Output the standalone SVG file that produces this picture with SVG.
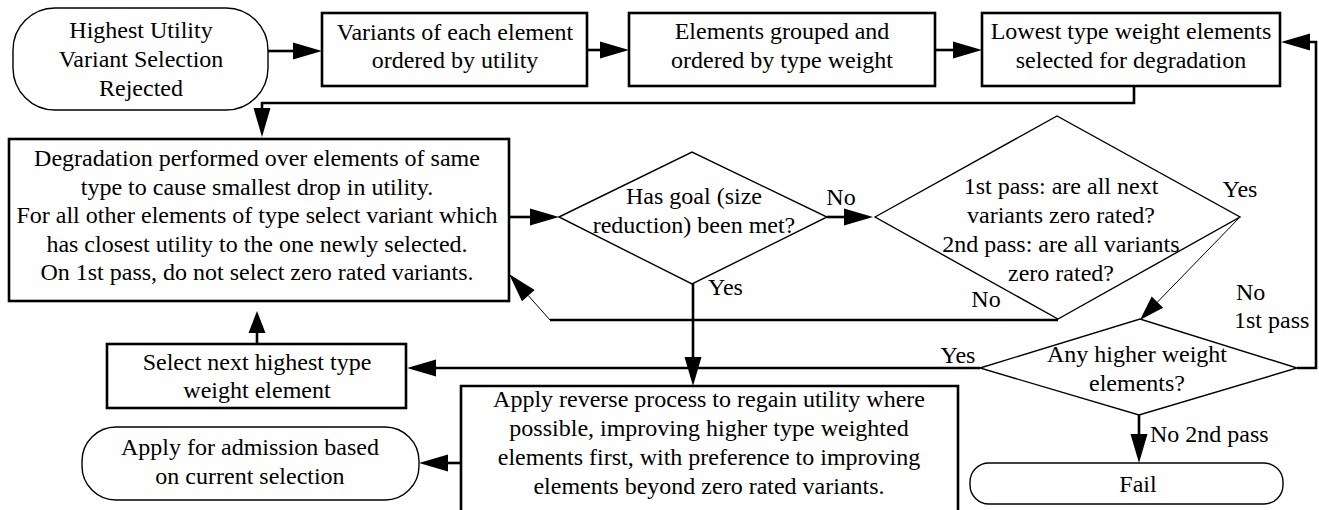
<svg xmlns="http://www.w3.org/2000/svg" width="1319" height="510" viewBox="0 0 1319 510">
<style>
text{font-family:"Liberation Serif","Times New Roman",serif;font-size:24px;fill:#000;text-anchor:middle}
.l{text-anchor:start}
.box{fill:#fff;stroke:#000;stroke-width:2.6}
.pill{fill:#fff;stroke:#000;stroke-width:1.4}
.dia{fill:#fff;stroke:#000;stroke-width:1.4}
.c{fill:none;stroke:#000;stroke-width:2.6}
.t{fill:none;stroke:#000;stroke-width:1}
</style>
<defs>
<marker id="a" markerUnits="userSpaceOnUse" markerWidth="30" markerHeight="18" refX="0" refY="8.5" orient="auto" overflow="visible"><path d="M0,0 L29,8.5 L0,17 Z" fill="#000"/></marker>
<marker id="as" markerUnits="userSpaceOnUse" markerWidth="26" markerHeight="18" refX="0" refY="8" orient="auto" overflow="visible"><path d="M0,0 L25,8 L0,16 Z" fill="#000"/></marker>
<marker id="ak" markerUnits="userSpaceOnUse" markerWidth="24" markerHeight="18" refX="0" refY="8.5" orient="auto" overflow="visible"><path d="M0,0 L22,8.5 L0,17 Z" fill="#000"/></marker>
</defs>

<g id="connectors">
<path class="c" d="M268,51 H293" marker-end="url(#a)"/>
<path class="c" d="M587,50 H600" marker-end="url(#a)"/>
<path class="c" d="M935,50 H953" marker-end="url(#a)"/>
<path class="c" d="M1134,86 V103 H262 V108" marker-end="url(#a)"/>
<path class="c" d="M509,217 H530" marker-end="url(#a)"/>
<path class="c" d="M827,217 H844" marker-end="url(#a)"/>
<path class="c" d="M1058,320 H550"/>
<path class="t" d="M550,320 L528.3,295.6" marker-end="url(#a)"/>
<path class="c" d="M693,284 V357" marker-end="url(#a)"/>
<path class="t" d="M1240,217 L1157.4,302.1" marker-end="url(#as)"/>
<path class="c" d="M980,368 H436" marker-end="url(#a)"/>
<path class="c" d="M1297,368 H1316 V42 H1310" marker-end="url(#a)"/>
<path class="c" d="M1139,415 V434" marker-end="url(#a)"/>
<path class="c" d="M461,463 H448" marker-end="url(#a)"/>
<path class="c" d="M257,344 V333" marker-end="url(#ak)"/>
</g>

<g id="start">
<rect class="pill" x="13" y="8" width="255" height="102" rx="42" ry="42"/>
<text x="141" y="38">Highest Utility</text>
<text x="141" y="67">Variant Selection</text>
<text x="141" y="96">Rejected</text>
</g>

<g id="order-variants">
<rect class="box" x="322" y="13" width="265" height="73"/>
<text x="455" y="40">Variants of each element</text>
<text x="455" y="68">ordered by utility</text>
</g>

<g id="group-elements">
<rect class="box" x="629" y="13" width="306" height="73"/>
<text x="782" y="39">Elements grouped and</text>
<text x="782" y="68">ordered by type weight</text>
</g>

<g id="lowest-weight">
<rect class="box" x="982" y="13" width="298" height="73"/>
<text x="1131" y="39">Lowest type weight elements</text>
<text x="1131" y="68">selected for degradation</text>
</g>

<g id="degradation">
<rect class="box" x="9" y="139" width="500" height="162"/>
<text x="257" y="166">Degradation performed over elements of same</text>
<text x="257" y="194.5">type to cause smallest drop in utility.</text>
<text x="257" y="223">For all other elements of type select variant which</text>
<text x="257" y="251.5">has closest utility to the one newly selected.</text>
<text x="257" y="280">On 1st pass, do not select zero rated variants.</text>
</g>

<g id="goal-met">
<polygon class="dia" points="559,217 692,152 827,217 692,284"/>
<text x="694" y="204">Has goal (size</text>
<text x="694" y="233">reduction) been met?</text>
</g>

<g id="zero-rated">
<polygon class="dia" points="875,217 1057,116 1240,217 1058,319"/>
<text x="1061" y="194">1st pass: are all next</text>
<text x="1061" y="223">variants zero rated?</text>
<text x="1061" y="252">2nd pass: are all variants</text>
<text x="1061" y="281">zero rated?</text>
</g>

<g id="higher-weight">
<polygon class="dia" points="980,368 1140,319 1297,368 1139,415"/>
<text x="1137" y="362">Any higher weight</text>
<text x="1137" y="391">elements?</text>
</g>

<g id="select-next">
<rect class="box" x="107" y="344" width="299" height="64"/>
<text x="257" y="370">Select next highest type</text>
<text x="257" y="398">weight element</text>
</g>

<g id="reverse">
<path class="box" d="M461,515 V386 H958 V515"/>
<text x="709" y="407">Apply reverse process to regain utility where</text>
<text x="709" y="436">possible, improving higher type weighted</text>
<text x="709" y="465">elements first, with preference to improving</text>
<text x="709" y="494">elements beyond zero rated variants.</text>
</g>

<g id="admission">
<rect class="pill" x="82" y="427" width="337" height="73" rx="34" ry="34"/>
<text x="250" y="455">Apply for admission based</text>
<text x="250" y="484">on current selection</text>
</g>

<g id="fail">
<rect class="pill" x="970" y="463" width="313" height="41" rx="19" ry="19"/>
<text x="1138" y="492">Fail</text>
</g>

<g id="labels">
<text x="841" y="205">No</text>
<text class="l" x="708" y="295">Yes</text>
<text x="986" y="307">No</text>
<text x="1240" y="197">Yes</text>
<text class="l" x="1236" y="300">No</text>
<text class="l" x="1234" y="328">1st pass</text>
<text x="958" y="363">Yes</text>
<text class="l" x="1150" y="442">No 2nd pass</text>
</g>
</svg>
